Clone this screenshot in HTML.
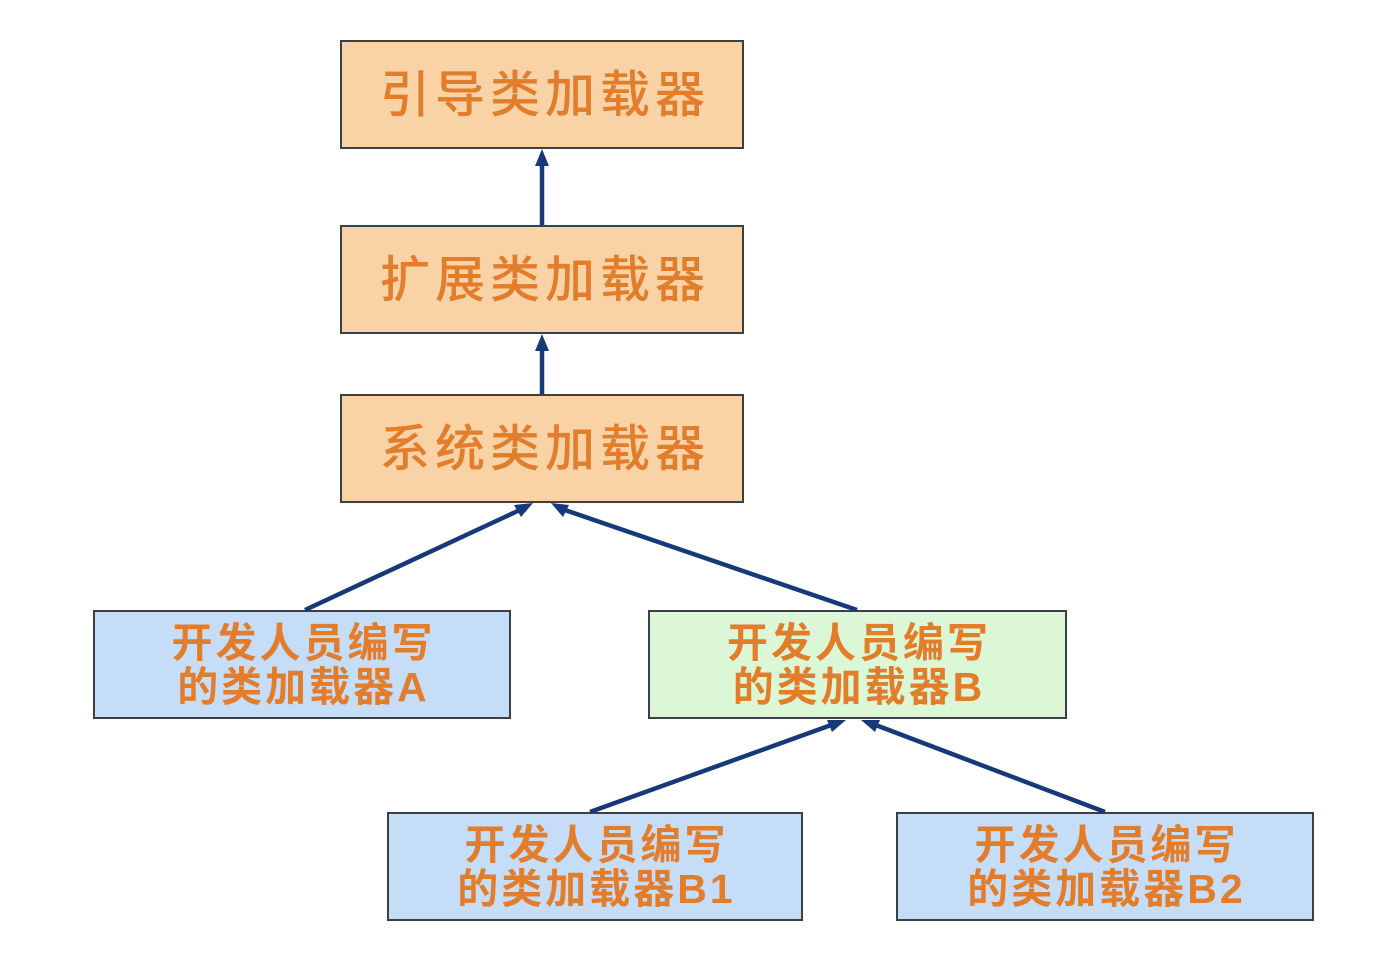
<!DOCTYPE html>
<html><head><meta charset="utf-8">
<style>
html,body{margin:0;padding:0;background:#fff;}
body{width:1380px;height:958px;position:relative;overflow:hidden;}
.b{position:absolute;box-sizing:border-box;border:2px solid #3b3f46;display:flex;align-items:center;justify-content:center;text-align:center;color:#e27d2c;font-family:"Liberation Sans","Noto Sans CJK SC",sans-serif;}
.big{background:#f9d2a6;font-size:50px;letter-spacing:5px;font-weight:500;padding-bottom:8px;padding-left:6px;}
.sm{font-size:41px;letter-spacing:3px;line-height:44px;font-weight:bold;padding-left:3px;}
.blue{background:#c6ddf7;}
.green{background:#dbf7d6;}
svg{position:absolute;left:0;top:0;}
</style></head><body>
<div class="b big" style="left:340px;top:40px;width:404px;height:109px;">引导类加载器</div>
<div class="b big" style="left:340px;top:225px;width:404px;height:109px;">扩展类加载器</div>
<div class="b big" style="left:340px;top:394px;width:404px;height:109px;">系统类加载器</div>
<div class="b sm blue" style="left:93px;top:610px;width:418px;height:109px;">开发人员编写<br>的类加载器A</div>
<div class="b sm green" style="left:648px;top:610px;width:419px;height:109px;">开发人员编写<br>的类加载器B</div>
<div class="b sm blue" style="left:387px;top:812px;width:416px;height:109px;">开发人员编写<br>的类加载器B1</div>
<div class="b sm blue" style="left:896px;top:812px;width:418px;height:109px;">开发人员编写<br>的类加载器B2</div>
<svg width="1380" height="958" viewBox="0 0 1380 958">
<g stroke="#17397a" stroke-width="4.5" fill="none">
<line x1="542" y1="225" x2="542" y2="162"/>
<line x1="542" y1="394" x2="542" y2="347"/>
<line x1="305" y1="610" x2="522" y2="509"/>
<line x1="857" y1="610" x2="562" y2="509"/>
<line x1="590" y1="812" x2="834" y2="724"/>
<line x1="1105" y1="812" x2="873" y2="724"/>
</g>
<g fill="#17397a">
<polygon points="542,149 535,166 549,166"/>
<polygon points="542,334 535,351 549,351"/>
<polygon points="533,503 514,505 521,517"/>
<polygon points="551,503 563,517 569,505"/>
<polygon points="846,720 827,720 832,732"/>
<polygon points="861,720 875,732 880,720"/>
</g>
</svg>
</body></html>
